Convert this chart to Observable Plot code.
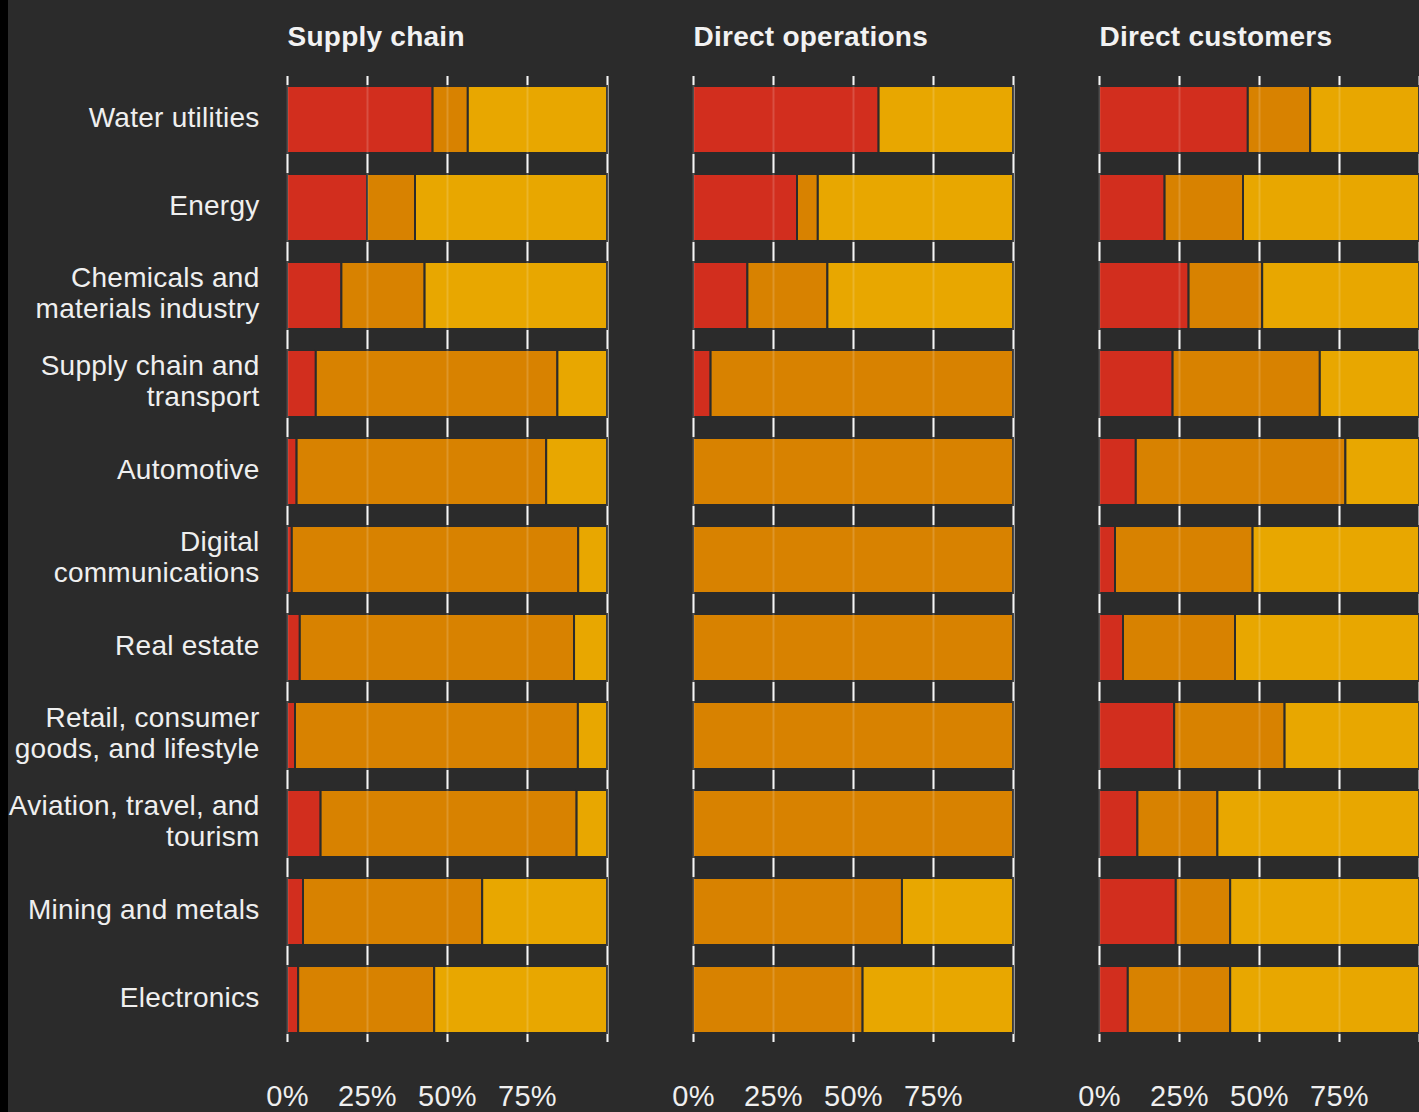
<!DOCTYPE html>
<html>
<head>
<meta charset="utf-8">
<script src="https://cdn.jsdelivr.net/npm/d3@7"></script>
<script src="https://cdn.jsdelivr.net/npm/@observablehq/plot@0.6"></script>
<style>
  html, body { margin: 0; padding: 0; background: #2b2b2b; }
  body { width: 1419px; height: 1112px; overflow: hidden; position: relative; font-family: "Liberation Sans", Arial, sans-serif; }
  #strip { position: absolute; left: 0; top: 0; width: 8px; height: 1112px; background: #000; }
  #chart { position: absolute; left: 0; top: 0; }
  #chart svg text { letter-spacing: 0.25px; }
</style>
</head>
<body>
<div id="chart"></div>
<div id="strip"></div>
<script>
const industries = [
  "Water utilities", "Energy", "Chemicals and materials industry", "Supply chain and transport",
  "Automotive", "Digital communications", "Real estate", "Retail, consumer goods, and lifestyle",
  "Aviation, travel, and tourism", "Mining and metals", "Electronics"
];
const industryLabels = [
  "Water utilities", "Energy", "Chemicals and\nmaterials industry", "Supply chain and\ntransport",
  "Automotive", "Digital\ncommunications", "Real estate", "Retail, consumer\ngoods, and lifestyle",
  "Aviation, travel, and\ntourism", "Mining and metals", "Electronics"
];
const panels = ["Supply chain", "Direct operations", "Direct customers"];
const categories = ["High", "Medium", "Low"];
const colors = ["#d22e1e", "#d88200", "#e8a700"];
const xTicks = [0, 25, 50, 75];
const gridTicks = [0, 25, 50, 75, 100];

// values in % per panel and category, in industry order
const supplyHigh   = [45.5, 25, 17, 9, 3, 1.5, 4, 2.5, 10.5, 5, 3.5];
const supplyMedium = [11, 15, 26, 75.5, 78, 89.5, 85.7, 88.4, 80, 56, 42.5];
const supplyLow    = [43.5, 60, 57, 15.5, 19, 9, 10.3, 9.1, 9.5, 39, 54];

const opsHigh   = [58, 32.5, 17, 5.5, 0, 0, 0, 0, 0, 0, 0];
const opsMedium = [0, 6.5, 25, 94.5, 100, 100, 100, 100, 100, 65.3, 53];
const opsLow    = [42, 61, 58, 0, 0, 0, 0, 0, 0, 34.7, 47];

const custHigh   = [46.5, 20.5, 28, 23, 11.5, 5, 7.5, 23.5, 12, 24, 9];
const custMedium = [19.5, 24.5, 23, 46, 65.5, 43, 35, 34.5, 25, 17, 32];
const custLow    = [34, 55, 49, 31, 23, 52, 57.5, 42, 63, 59, 59];

const series = [
  [supplyHigh, supplyMedium, supplyLow],
  [opsHigh, opsMedium, opsLow],
  [custHigh, custMedium, custLow]
];

const rows = [];
panels.forEach((p, pi) => {
  industries.forEach((ind, ii) => {
    categories.forEach((c, ci) => {
      const v = series[pi][ci][ii];
      if (v > 0) rows.push({panel: p, industry: ind, category: c, value: v});
    });
  });
});

const font = "'Liberation Sans', Arial, sans-serif";

const chart = Plot.plot({
  width: 1419,
  height: 1112,
  marginLeft: 286.5,
  marginRight: 0,
  marginTop: 76,
  marginBottom: 70,
  style: {background: "transparent", fontFamily: font, color: "#efefef"},
  fx: {domain: panels, axis: null, paddingInner: 0.212, paddingOuter: 0},
  x: {domain: [0, 100], axis: null},
  y: {domain: industries, axis: null, paddingInner: 0.24, paddingOuter: 0.102},
  color: {domain: categories, range: colors},
  marks: [
    Plot.ruleX(gridTicks, {stroke: "#f4f4f4", strokeWidth: 2}),
    Plot.barX(rows, Plot.stackX({
      fx: "panel", y: "industry", x: "value", fill: "category",
      order: categories, stroke: "#2b2b2b", strokeWidth: 2
    })),
    Plot.ruleX(gridTicks, {stroke: "#ffffff", strokeOpacity: 0.16, strokeWidth: 2}),
    Plot.axisX({
      ticks: xTicks, tickFormat: d => d + "%", tickSize: 0, tickPadding: 43,
      fontSize: 29, fill: "#efefef", label: null
    }),
    Plot.axisY({
      tickSize: 0, tickPadding: 28, fontSize: 28, lineHeight: 1.1, fill: "#efefef",
      dy: -3, label: null, tickFormat: d => industryLabels[industries.indexOf(d)]
    }),
    Plot.text(panels, {
      fx: d => d, text: d => d, frameAnchor: "top-left", lineAnchor: "middle",
      dy: -39, fontSize: 28, fontWeight: "bold", fill: "#f2f2f2", textAnchor: "start"
    })
  ]
});
document.getElementById("chart").appendChild(chart);
</script>
</body>
</html>
